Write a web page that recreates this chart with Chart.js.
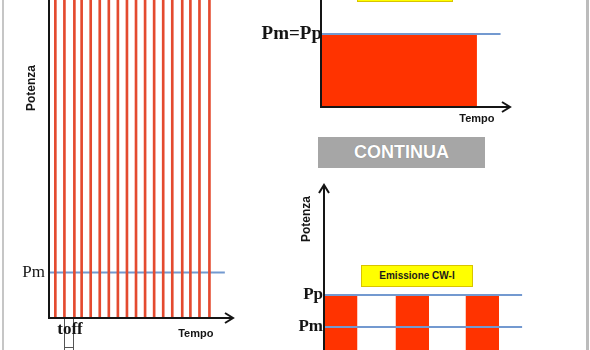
<!DOCTYPE html>
<html>
<head>
<meta charset="utf-8">
<script src="https://cdn.jsdelivr.net/npm/chart.js@4.4.1/dist/chart.umd.min.js"></script>
<style>
  html, body { margin: 0; padding: 0; background: #fff; overflow: hidden; }
  body { width: 590px; height: 350px; position: relative; }
  canvas { position: absolute; left: 0; top: 0; }
  .frame { position: absolute; top: 0; height: 350px; background: #c6c6c6; }
  .badge {
    position: absolute; box-sizing: border-box; text-align: center;
    font-family: "Liberation Sans", Arial, sans-serif; font-weight: bold;
  }
  #continua {
    left: 318px; top: 137px; width: 167px; height: 31px; line-height: 31px;
    background: #a6a6a6; color: #fff; font-size: 18px;
    text-shadow: 0 0 1px rgba(0,0,0,0.25);
  }
  .yellow { background: #ffff00; border: 1px solid #d9c400; color: #1b1b1b; }
  #cwTitle { left: 357px; top: -20px; width: 96px; height: 22px; }
  #cwiTitle { left: 361px; top: 265px; width: 112px; height: 22px; line-height: 20px; font-size: 10px; }
</style>
</head>
<body>
<canvas id="pulsed" width="590" height="350"></canvas>
<canvas id="continuous" width="590" height="350"></canvas>
<canvas id="cwi" width="590" height="380"></canvas>
<div class="frame" style="left:2px; width:2px;"></div>
<div class="frame" style="left:586px; width:3px; background:#bcbcbc;"></div>
<div id="cwTitle" class="badge yellow"></div>
<div id="continua" class="badge">CONTINUA</div>
<div id="cwiTitle" class="badge yellow">Emissione CW-I</div>
<script>
// emissione pulsata: istanti degli impulsi e livelli di potenza
const pulseTimes = [0.7, 1.7, 2.8, 3.6, 4.6, 5.6, 6.6, 7.6, 8.6, 9.6, 10.6, 11.6, 12.6, 13.6, 14.7, 15.6, 16.6, 17.7];
const pulsePeak = 14;
const pulseMean = 2;
const pulseMeanEnd = 19.4;

// emissione continua
const cwTimes = [0, 9.9];
const cwPower = [10, 10];
const cwLevelEnd = 11.4;

// emissione CW-I (on/off)
const cwiTimes = [0, 0.95, 2.05, 3.0, 4.05, 5.0];
const cwiPower = [10, 0, 10, 0, 10, 0];
const cwiPeak = 10;
const cwiMean = 5;
const cwiLevelEnd = 5.66;

const SERIF = '"Liberation Serif", "DejaVu Serif", serif';
const SANS = '"Liberation Sans", Arial, sans-serif';
const RED_LINE = '#e44a2f';
const RED_FILL = '#ff3300';
const BLUE = '#7399d0';
const INK = '#151515';

const toPoints = (xs, ys) => xs.map((x, i) => ({ x, y: ys[i] }));

const baseOptions = (padding, xMax, yMax) => ({
    responsive: false,
    animation: false,
    layout: { padding },
    plugins: { legend: { display: false }, tooltip: { enabled: false } },
    scales: {
        x: { type: 'linear', min: 0, max: xMax, offset: false, display: false },
        y: { type: 'linear', min: 0, max: yMax, display: false }
    }
});

const line = (ctx, x1, y1, x2, y2, color, width) => {
    ctx.beginPath();
    ctx.strokeStyle = color;
    ctx.lineWidth = width;
    ctx.moveTo(x1, y1);
    ctx.lineTo(x2, y2);
    ctx.stroke();
};

const arrowRight = (ctx, x, y) => {
    ctx.beginPath();
    ctx.strokeStyle = INK;
    ctx.lineWidth = 2;
    ctx.moveTo(x - 8, y - 5);
    ctx.lineTo(x, y);
    ctx.lineTo(x - 8, y + 5);
    ctx.stroke();
};

const arrowUp = (ctx, x, y) => {
    ctx.beginPath();
    ctx.strokeStyle = INK;
    ctx.lineWidth = 2;
    ctx.moveTo(x - 5, y + 8);
    ctx.lineTo(x, y);
    ctx.lineTo(x + 5, y + 8);
    ctx.stroke();
};

const text = (ctx, str, x, y, font, align = 'center', rotate = 0) => {
    ctx.save();
    ctx.translate(x, y);
    ctx.rotate(rotate);
    ctx.font = font;
    ctx.fillStyle = INK;
    ctx.textAlign = align;
    ctx.textBaseline = 'middle';
    ctx.fillText(str, 0, 0);
    ctx.restore();
};

const axesPlugin = (draw) => ({
    id: 'axes',
    afterDatasetsDraw(chart) {
        const ctx = chart.ctx;
        ctx.save();
        draw(ctx, chart.scales.x, chart.scales.y, chart.chartArea);
        ctx.restore();
    }
});

// pannello sinistro: treno di impulsi
new Chart(document.getElementById('pulsed'), {
    type: 'bar',
    data: {
        datasets: [{
            type: 'bar',
            data: toPoints(pulseTimes, pulseTimes.map(() => pulsePeak)),
            backgroundColor: RED_LINE,
            barThickness: 2,
            order: 0
        }, {
            type: 'line',
            data: [{ x: 0, y: pulseMean }, { x: pulseMeanEnd, y: pulseMean }],
            borderColor: BLUE,
            borderWidth: 2,
            pointRadius: 0,
            order: 1
        }]
    },
    options: baseOptions({ left: 49, right: 357, top: 0, bottom: 32 }, 20.3, pulsePeak),
    plugins: [axesPlugin((ctx, x, y, area) => {
        const x0 = x.getPixelForValue(0);
        const y0 = y.getPixelForValue(0);
        line(ctx, x0, area.top, x0, y0 + 1, INK, 2);
        line(ctx, x0 - 1, y0, area.right - 1, y0, INK, 2);
        arrowRight(ctx, area.right, y0);

        text(ctx, 'Potenza', x0 - 17, 88, `bold 12px ${SANS}`, 'center', -Math.PI / 2);
        text(ctx, 'Pm', x0 - 4, y.getPixelForValue(pulseMean), `17px ${SERIF}`, 'right');

        // intervallo toff tra due impulsi
        const xa = Math.round(x.getPixelForValue(pulseTimes[1])) + 0.5;
        const xb = Math.round(x.getPixelForValue(pulseTimes[2])) - 0.5;
        line(ctx, xa, y0 + 1, xa, 352, '#555', 1);
        line(ctx, xb, y0 + 1, xb, 352, '#555', 1);
        line(ctx, xa, 347.5, xb, 347.5, '#555', 1);
        text(ctx, 'toff', (xa + xb) / 2 + 1, y0 + 12, `bold 17px ${SERIF}`);

        text(ctx, 'Tempo', x.getPixelForValue(16.2), y0 + 16, `bold 11px ${SANS}`);
    })]
});

// pannello in alto: emissione continua
new Chart(document.getElementById('continuous'), {
    type: 'line',
    data: {
        datasets: [{
            data: [{ x: 0, y: cwPower[0] }, { x: cwLevelEnd, y: cwPower[0] }],
            borderColor: BLUE,
            borderWidth: 2,
            pointRadius: 0,
            order: 0
        }, {
            data: toPoints(cwTimes, cwPower),
            borderWidth: 0,
            borderColor: 'rgba(0,0,0,0)',
            backgroundColor: RED_FILL,
            fill: 'origin',
            pointRadius: 0,
            order: 1
        }]
    },
    options: baseOptions({ left: 321, right: 80, top: 0, bottom: 243 }, 12, 14.66),
    plugins: [axesPlugin((ctx, x, y, area) => {
        const x0 = x.getPixelForValue(0);
        const y0 = y.getPixelForValue(0);
        line(ctx, x0, area.top, x0, y0 + 1, INK, 2);
        line(ctx, x0 - 1, y0, area.right - 1, y0, INK, 2);
        arrowRight(ctx, area.right, y0);
        text(ctx, 'Pm=Pp', x0 + 1, y.getPixelForValue(cwPower[0]), `bold 19px ${SERIF}`, 'right');
        text(ctx, 'Tempo', x.getPixelForValue(9.9), y0 + 12, `bold 11px ${SANS}`);
    })]
});

// pannello in basso: emissione CW-I
new Chart(document.getElementById('cwi'), {
    type: 'line',
    data: {
        datasets: [{
            data: [{ x: 0, y: cwiPeak }, { x: cwiLevelEnd, y: cwiPeak }],
            borderColor: BLUE,
            borderWidth: 2,
            pointRadius: 0,
            order: 0
        }, {
            data: [{ x: 0, y: cwiMean }, { x: cwiLevelEnd, y: cwiMean }],
            borderColor: BLUE,
            borderWidth: 2,
            pointRadius: 0,
            order: 0
        }, {
            data: toPoints(cwiTimes, cwiPower),
            stepped: 'before',
            borderWidth: 0,
            borderColor: 'rgba(0,0,0,0)',
            backgroundColor: RED_FILL,
            fill: 'origin',
            pointRadius: 0,
            order: 1
        }]
    },
    options: baseOptions({ left: 324, right: 56, top: 186, bottom: 21 }, 6, 27),
    plugins: [axesPlugin((ctx, x, y, area) => {
        const x0 = x.getPixelForValue(0);
        line(ctx, x0, area.top + 1, x0, area.bottom, INK, 2);
        arrowUp(ctx, x0, area.top - 1);
        text(ctx, 'Potenza', x0 - 17, 219, `bold 12px ${SANS}`, 'center', -Math.PI / 2);
        text(ctx, 'Pp', x0 - 1, y.getPixelForValue(cwiPeak), `bold 17px ${SERIF}`, 'right');
        text(ctx, 'Pm', x0 - 1, y.getPixelForValue(cwiMean), `bold 17px ${SERIF}`, 'right');
    })]
});
</script>
</body>
</html>
